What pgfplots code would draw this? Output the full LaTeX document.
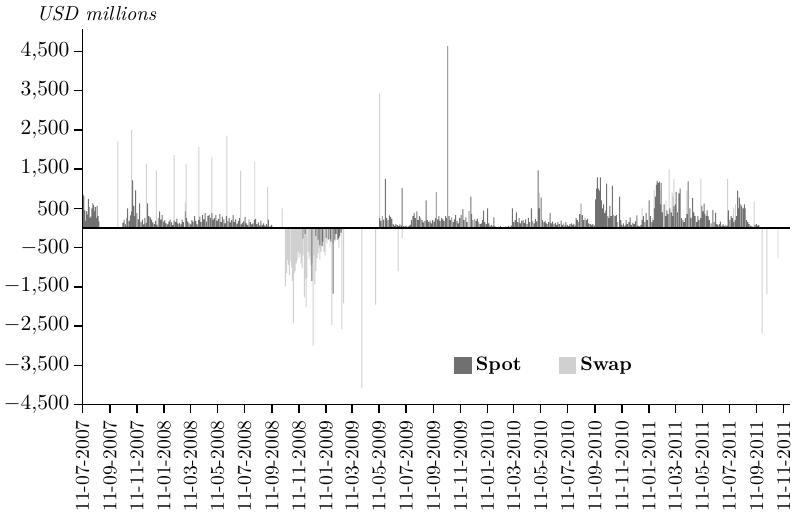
\documentclass[border=0pt]{standalone}
\usepackage{pgfplots}
\pgfplotsset{compat=1.18}
\definecolor{spotc}{RGB}{112,112,112}
\definecolor{swapc}{RGB}{208,208,208}
\begin{document}
\begin{tikzpicture}
\begin{axis}[
    name=ax,
    scale only axis,
    width=361pt, height=192pt,
    xmin=0, xmax=1597,
    ymin=-4500, ymax=5080,
    axis x line=bottom, axis y line=left,
    axis line style={-, line width=0.75pt},
    tick align=outside, major tick length=4.5pt,
    tick style={black, line width=0.75pt},
    ytick={-4500,-3500,...,4500},
    /pgf/number format/1000 sep={\mathord{,}},
    yticklabel style={font=\fontsize{10.9}{13}\selectfont, inner xsep=2pt},
    xtick={0,62,123,184,244,305,366,428,489,550,609,670,731,793,854,915,974,1035,1096,1158,1219,1280,1339,1400,1461,1523,1584},
    xticklabels={11-07-2007,11-09-2007,11-11-2007,11-01-2008,11-03-2008,11-05-2008,11-07-2008,11-09-2008,11-11-2008,11-01-2009,11-03-2009,11-05-2009,11-07-2009,11-09-2009,11-11-2009,11-01-2010,11-03-2010,11-05-2010,11-07-2010,11-09-2010,11-11-2010,11-01-2011,11-03-2011,11-05-2011,11-07-2011,11-09-2011,11-11-2011},
    xticklabel style={rotate=90, anchor=east, font=\fontsize{10}{12}\selectfont},
    extra y ticks={0}, extra y tick labels={},
    extra y tick style={grid=major, major grid style={black, line width=0.75pt}, major tick length=0pt},
    axis on top,
    legend columns=2,
    legend image code/.code={\fill[#1] (0pt,-4.3pt) rectangle (9pt,4.3pt);},
    legend style={at={(rel axis cs:0.517,0.104)}, anchor=west, draw=none, fill=none,
        font=\bfseries\fontsize{10}{12}\selectfont,
        /tikz/every even column/.append style={column sep=17pt}},
]
\addlegendimage{fill=spotc, draw=none}
\addlegendentry{Spot}
\addlegendimage{fill=swapc, draw=none}
\addlegendentry{Swap}

% Swap
\addplot[ybar, bar width=2.2, bar shift=0pt, fill=swapc, draw=none, forget plot] coordinates {
(80,2200) (111,2500) (144,1640) (167,1460) (207,1855) (232,650) (234,1640) (263,2060)
(292,1805) (326,2350) (357,1460) (389,1690) (418,1040) (451,500)
(458,-1480) (461,-1150) (463,-810) (465,-940) (467,-1200) (469,-850) (472,-1000) (474,-1350)
(476,-2430) (478,-1150) (480,-1100) (483,-900) (485,-810) (487,-600) (489,-750) (492,-650)
(494,-900) (496,-1020) (498,-700) (501,-1770) (503,-1300) (505,-2020) (507,-1270) (510,-600)
(512,-800) (514,-700) (516,-950) (519,-900) (521,-3000) (523,-700) (525,-1440) (527,-1100)
(530,-770) (532,-650) (534,-500) (536,-800) (539,-600) (541,-450) (545,-600) (548,-700)
(552,-400) (555,-300) (559,-500) (563,-2470) (566,-400) (570,-350) (575,-300) (579,-500)
(586,-2580) (590,-1920) (631,-4090) (662,-1950) (671,3420) (713,-1100) (722,-250)
(1032,900) (1264,520) (1287,250) (1291,970) (1305,960) (1309,590) (1318,700) (1325,1490)
(1332,900) (1334,800) (1336,1250) (1365,950) (1397,1260) (1457,1250) (1471,510) (1475,600)
(1517,670) (1535,-2690) (1546,-1690) (1571,-770)
};

% Spot
\addplot[ybar, bar width=2.2, bar shift=0pt, fill=spotc, draw=none, forget plot] coordinates {
(1,870) (3,820) (5,450) (7,180) (9,420) (11,340) (13,740) (15,540) (17,250) (19,290)
(21,500) (23,630) (25,590) (27,420) (29,530) (31,250) (33,560) (35,300) (37,170)
(91,130) (94,210) (97,90) (100,260) (102,500) (105,180) (108,320) (111,420) (113,1210) (116,560)
(118,300) (120,960) (123,380) (126,220) (129,625) (132,150) (135,210) (138,90) (141,260) (144,130)
(147,625) (150,300) (153,270) (156,210) (159,140) (162,100) (165,180) (168,80) (171,250) (174,420)
(177,210) (180,330) (183,160) (186,200) (189,120) (192,90) (195,160) (198,210) (201,140) (204,70)
(207,190) (210,150) (213,240) (216,110) (219,130) (222,90) (225,210) (228,150) (232,420) (235,250)
(238,160) (241,120) (244,90) (247,200) (250,160) (253,300) (256,180) (259,90) (262,200) (265,290)
(268,150) (271,330) (274,220) (277,380) (280,160) (283,300) (286,340) (289,260) (292,380) (295,210)
(298,250) (301,330) (304,180) (307,230) (310,350) (313,150) (316,290) (319,220) (322,120) (325,300)
(328,180) (331,260) (334,140) (337,200) (340,330) (343,150) (346,220) (349,110) (352,180) (355,250)
(358,90) (361,130) (364,170) (367,280) (370,120) (373,80) (376,220) (379,150) (382,90) (385,120)
(388,200) (391,230) (394,100) (397,140) (400,60) (403,190) (406,80) (409,120) (412,60) (415,100)
(418,40) (420,210) (424,50) (427,80) (430,30)
(498,-270) (503,-150) (518,-1350) (527,-200) (532,-300) (536,-440) (541,-460) (543,-350) (550,-250)
(555,-300) (559,-280) (561,-350) (566,-1670) (570,-300) (573,-150) (577,-300) (579,-250) (581,-200)
(584,-120)
(671,250) (674,180) (677,300) (680,210) (684,1250) (687,260) (690,200) (693,320) (696,280) (699,230)
(702,90) (705,60) (708,100) (711,70) (714,50) (717,90) (720,60) (722,1020) (725,50) (728,40)
(731,60) (734,30) (737,50) (740,80) (743,200) (746,300) (749,380) (752,250) (755,420) (758,200)
(761,300) (764,260) (767,200) (770,140) (773,180) (776,700) (779,200) (782,150) (785,180) (788,120)
(791,200) (794,160) (797,250) (799,920) (802,220) (805,300) (808,180) (811,260) (814,220) (817,180)
(820,300) (822,250) (825,4630) (828,300) (831,200) (834,270) (837,150) (840,220) (843,330) (846,180)
(849,120) (852,250) (855,330) (859,480) (862,200) (866,270) (869,150) (873,430) (877,800) (879,350)
(882,200) (886,230) (889,180) (892,240) (895,150) (898,100) (901,120) (904,200) (906,440) (909,150)
(912,100) (915,500) (918,120) (921,60) (924,80) (927,40) (929,270) (932,40) (938,30) (944,50)
(950,30) (956,40) (962,50) (968,60) (971,500) (974,150) (977,200) (980,400) (983,150) (986,250)
(989,120) (992,180) (995,200) (998,130) (1001,220) (1004,100) (1007,260) (1010,150) (1014,500) (1017,180)
(1020,120) (1023,230) (1026,170) (1029,1470) (1032,500) (1036,770) (1039,200) (1042,150) (1045,180) (1048,120)
(1051,100) (1053,150) (1056,380) (1059,120) (1062,160) (1065,100) (1068,130) (1071,80) (1074,150) (1077,100)
(1081,190) (1084,80) (1087,120) (1090,60) (1092,150) (1095,80) (1098,50) (1101,100) (1104,120) (1107,80)
(1110,100) (1113,60) (1115,250) (1118,200) (1121,150) (1123,350) (1126,620) (1129,330) (1132,200) (1135,260)
(1138,200) (1141,240) (1144,120) (1147,100) (1150,80) (1153,100) (1156,60) (1159,730) (1161,1000) (1163,1290)
(1165,1000) (1167,950) (1170,1290) (1172,700) (1175,500) (1177,600) (1180,380) (1182,450) (1184,1130) (1187,300)
(1189,250) (1191,560) (1194,300) (1197,1080) (1200,330) (1203,300) (1206,330) (1209,150) (1213,800) (1216,200)
(1219,80) (1222,120) (1225,60) (1228,200) (1231,100) (1234,150) (1237,270) (1240,80) (1243,130) (1246,100)
(1249,170) (1252,320) (1255,60) (1258,40) (1261,80) (1264,200) (1267,300) (1270,150) (1273,380) (1276,200)
(1280,700) (1283,300) (1286,150) (1289,200) (1292,500) (1294,800) (1296,1100) (1298,1200) (1300,1150) (1303,1180)
(1305,600) (1307,1150) (1310,400) (1314,600) (1317,300) (1320,450) (1323,350) (1327,500) (1330,400) (1333,300)
(1336,550) (1339,600) (1341,920) (1344,400) (1347,880) (1350,1000) (1353,250) (1356,200) (1359,150) (1362,250)
(1365,350) (1368,1190) (1372,500) (1375,260) (1378,760) (1381,400) (1384,300) (1387,150) (1390,300) (1393,200)
(1396,250) (1399,560) (1402,420) (1404,620) (1406,350) (1409,300) (1411,450) (1413,300) (1416,200) (1420,120)
(1424,460) (1427,150) (1430,390) (1433,100) (1436,80) (1439,100) (1441,160) (1444,60) (1447,100) (1450,50)
(1453,80) (1456,60) (1459,450) (1462,200) (1465,300) (1468,250) (1471,150) (1474,200) (1477,300) (1480,950)
(1482,500) (1484,770) (1487,600) (1489,550) (1492,500) (1495,600) (1497,500) (1500,200) (1503,150) (1506,100)
(1509,60) (1512,40) (1519,80) (1522,100) (1525,60) (1528,80)
};
\end{axis}
\node[anchor=base west, font=\itshape\fontsize{10.3}{12}\selectfont] at ([xshift=-27pt, yshift=4pt]ax.north west) {USD millions};
\end{tikzpicture}
\end{document}
